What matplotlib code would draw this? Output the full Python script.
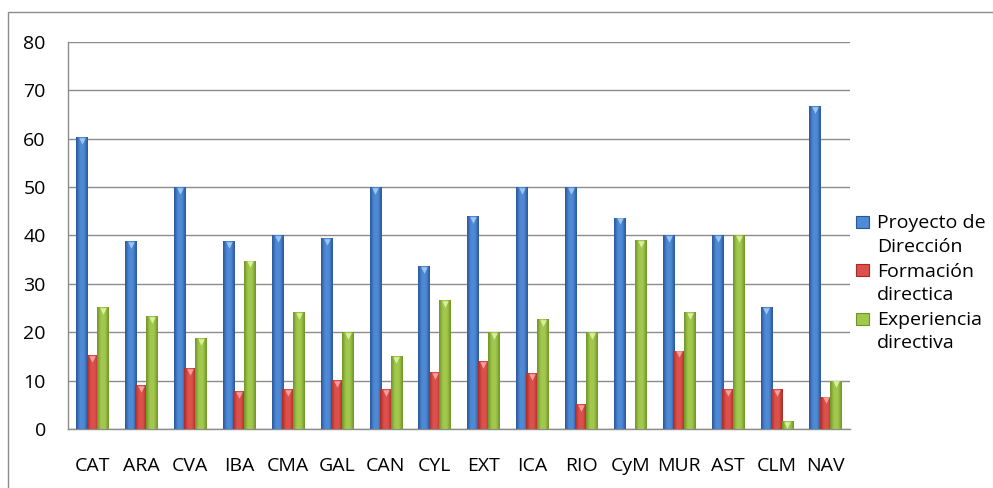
import matplotlib.pyplot as plt
import matplotlib.patches as mpatches
import numpy as np
from matplotlib.colors import LinearSegmentedColormap

# =========================
# DATA
# =========================

regiones = [
    "CAT", "ARA", "CVA", "IBA", "CMA", "GAL", "CAN", "CYL",
    "EXT", "ICA", "RIO", "CyM", "MUR", "AST", "CLM", "NAV"
]

proyecto_direccion = [
    60.3, 38.8, 50.0, 38.8, 40.0, 39.4, 50.0, 33.6,
    44.0, 50.0, 50.0, 43.7, 40.0, 40.0, 25.2, 66.7
]

formacion_directica = [
    15.2, 9.0, 12.6, 7.8, 8.3, 10.1, 8.3, 11.8,
    14.0, 11.6, 5.2, 0.0, 16.2, 8.3, 8.3, 6.7
]

experiencia_directiva = [
    25.2, 23.3, 18.8, 34.8, 24.1, 20.0, 15.1, 26.7,
    20.0, 22.7, 20.0, 39.0, 24.1, 40.0, 1.6, 10.0
]

series_labels = [
    "Proyecto de\nDirección",
    "Formación\ndirectica",
    "Experiencia\ndirectiva"
]

# dark edge, light middle, highlight for the cap
palette = [
    ("#2a5699", "#4f8ad6", "#9cc6f2"),
    ("#a82a25", "#dc514b", "#f2a09a"),
    ("#6f9327", "#a3c84e", "#d9ef9c"),
]

FONT = "Open Sans"
FONT_SIZE = 14

# =========================
# FIGURE
# =========================

fig = plt.figure(figsize=(9.93, 4.88), dpi=100)

ax = fig.add_axes([0.0685, 0.121, 0.7875, 0.793])

# outer chart border (runs off the right and bottom edges)
fig.add_artist(
    mpatches.Rectangle(
        (0.0085, -0.05), 1.05, 1.025,
        transform=fig.transFigure,
        fill=False,
        edgecolor="#8c8c8c",
        linewidth=1.0
    )
)

x = np.arange(len(regiones))

offsets = [-0.21, 0.0, 0.22]
bar_width = 0.24


def gradient_bar(ax, bar, colors):
    # cylinder-like shading across the bar width
    if bar.get_height() <= 0:
        return
    cmap = LinearSegmentedColormap.from_list(
        "cyl", [colors[0], colors[1], colors[1], colors[0]]
    )
    grad = np.linspace(0, 1, 64).reshape(1, -1)
    x0 = bar.get_x()
    x1 = x0 + bar.get_width()
    img = ax.imshow(
        grad,
        cmap=cmap,
        aspect="auto",
        extent=(x0, x1, 0, bar.get_height()),
        zorder=bar.get_zorder(),
        interpolation="bicubic"
    )
    img.set_clip_path(bar)


all_series = [proyecto_direccion, formacion_directica, experiencia_directiva]

for i, values in enumerate(all_series):
    bars = ax.bar(
        x + offsets[i],
        values,
        width=bar_width,
        color=palette[i][1],
        linewidth=0,
        zorder=3 + i
    )
    for bar in bars:
        gradient_bar(ax, bar, palette[i])

    # small light cap on top of each bar
    tops = [v for v in values if v > 0]
    xs = [xx + offsets[i] for xx, v in zip(x, values) if v > 0]
    ax.scatter(
        xs,
        np.array(tops) - 0.8,
        marker="v",
        s=22,
        color=palette[i][2],
        linewidths=0,
        zorder=3.5 + i
    )

# =========================
# AXES
# =========================

ax.set_xlim(-0.5, len(regiones) - 0.5)
ax.set_ylim(0, 80)
ax.set_yticks(range(0, 81, 10))
ax.set_xticks(x)
ax.set_xticklabels(regiones)

ax.grid(axis="y", color="#8c8c8c", linewidth=1.0, zorder=0)
ax.set_axisbelow(True)

for side in ["top", "right"]:
    ax.spines[side].set_visible(False)
for side in ["left", "bottom"]:
    ax.spines[side].set_color("#8c8c8c")
    ax.spines[side].set_linewidth(1.0)

ax.tick_params(axis="y", length=0, pad=16, labelsize=FONT_SIZE)
ax.tick_params(axis="x", length=0, pad=20, labelsize=FONT_SIZE)

for lbl in ax.get_xticklabels() + ax.get_yticklabels():
    lbl.set_fontfamily(FONT)

# =========================
# LEGEND
# =========================

legend_y = [0.545, 0.446, 0.347]

for i, label in enumerate(series_labels):
    fig.add_artist(
        mpatches.Rectangle(
            (0.8625, legend_y[i] - 0.0125), 0.0125, 0.025,
            transform=fig.transFigure,
            facecolor=palette[i][1],
            edgecolor=palette[i][0],
            linewidth=0.8
        )
    )
    fig.text(
        0.8835, legend_y[i] + 0.016,
        label,
        fontsize=FONT_SIZE,
        fontfamily=FONT,
        va="top",
        ha="left",
        linespacing=1.38
    )

plt.savefig("out.png", dpi=100)
plt.close()
